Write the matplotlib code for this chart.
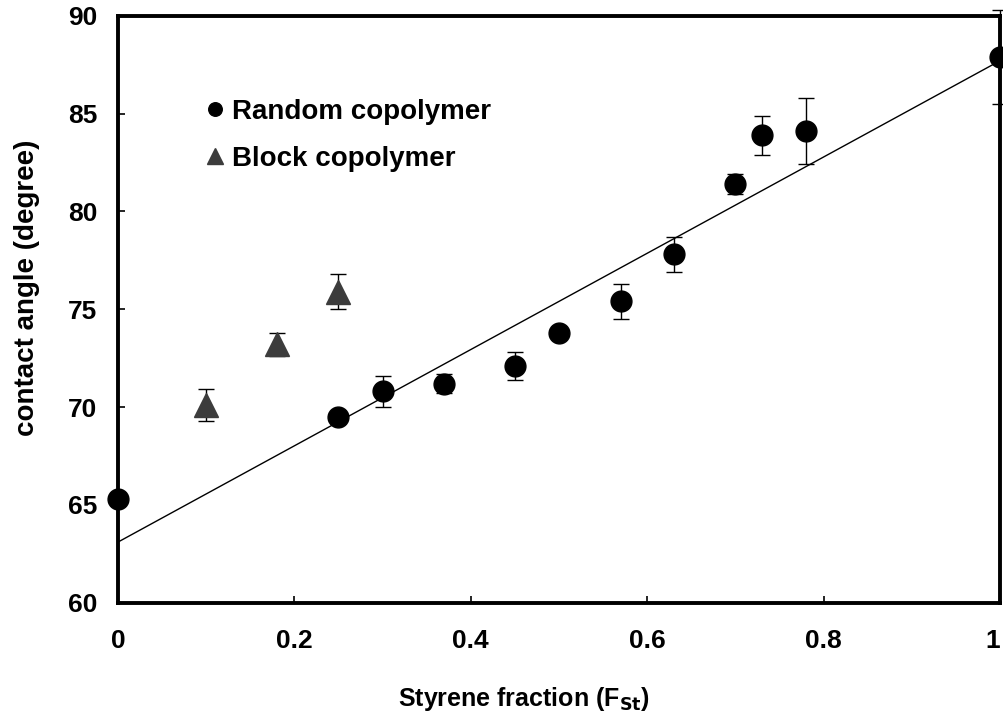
import matplotlib
matplotlib.use("Agg")
import matplotlib.pyplot as plt
import numpy as np

plt.rcParams['font.family'] = ['Liberation Sans', 'DejaVu Sans']
plt.rcParams['font.weight'] = 'bold'

# random copolymer
rand_x = [0.0, 0.25, 0.30, 0.37, 0.45, 0.50, 0.57, 0.63, 0.70, 0.73, 0.78, 1.0]
rand_y = [65.3, 69.5, 70.8, 71.2, 72.1, 73.8, 75.4, 77.8, 81.4, 83.9, 84.1, 87.9]
rand_err = [0.3, 0.2, 0.8, 0.5, 0.7, 0.2, 0.9, 0.9, 0.5, 1.0, 1.7, 2.4]

# block copolymer
block_x = [0.10, 0.18, 0.25]
block_y = [70.1, 73.2, 75.9]
block_err = [0.8, 0.6, 0.9]

# linear fit line
fit_intercept = 63.1
fit_slope = 24.6

fig = plt.figure(figsize=(10.04, 7.15), dpi=100)
ax = fig.add_axes([0.1175, 0.157, 0.8785, 0.821])

fx = np.array([0.0, 1.0])
ax.plot(fx, fit_intercept + fit_slope * fx, color='black', lw=1.0, zorder=1)

ax.errorbar(rand_x, rand_y, yerr=rand_err, fmt='o', color='black', ms=15,
            ecolor='black', elinewidth=1, capsize=6, capthick=1,
            label='Random copolymer', clip_on=False, zorder=3)
ax.errorbar(block_x, block_y, yerr=block_err, fmt='^', color='#3c3c3c', ms=17,
            ecolor='black', elinewidth=1, capsize=6, capthick=1,
            label='Block copolymer', clip_on=False, zorder=3)

ax.set_xlim(0, 1)
ax.set_ylim(60, 90)
ax.set_xticks([0, 0.2, 0.4, 0.6, 0.8, 1.0])
ax.set_xticklabels(['0', '0.2', '0.4', '0.6', '0.8', '1'])
ax.set_yticks([60, 65, 70, 75, 80, 85, 90])
ax.tick_params(direction='in', length=5, width=1.2, labelsize=19, pad=19)
ax.tick_params(axis='y', pad=15)
ax.get_xticklabels()[-1].set_horizontalalignment('right')
for s in ax.spines.values():
    s.set_linewidth(2.8)

ax.set_xlabel('Styrene fraction (F$_{\\mathbf{St}}$)', fontsize=18, fontweight='bold')
ax.xaxis.set_label_coords(0.46, -0.14)
ax.set_ylabel('contact angle (degree)', fontsize=20, fontweight='bold')
ax.yaxis.set_label_coords(-0.088, 0.537)

h, l = ax.get_legend_handles_labels()
h = [x[0] for x in h]
ax.legend(h, l, loc='upper left', bbox_to_anchor=(0.085, 0.882), frameon=False,
          borderpad=0, handlelength=0.6, handletextpad=0.3, markerscale=0.65,
          prop={'size': 20, 'weight': 'bold'}, labelspacing=0.75)

fig.savefig('out.png', dpi=100)
